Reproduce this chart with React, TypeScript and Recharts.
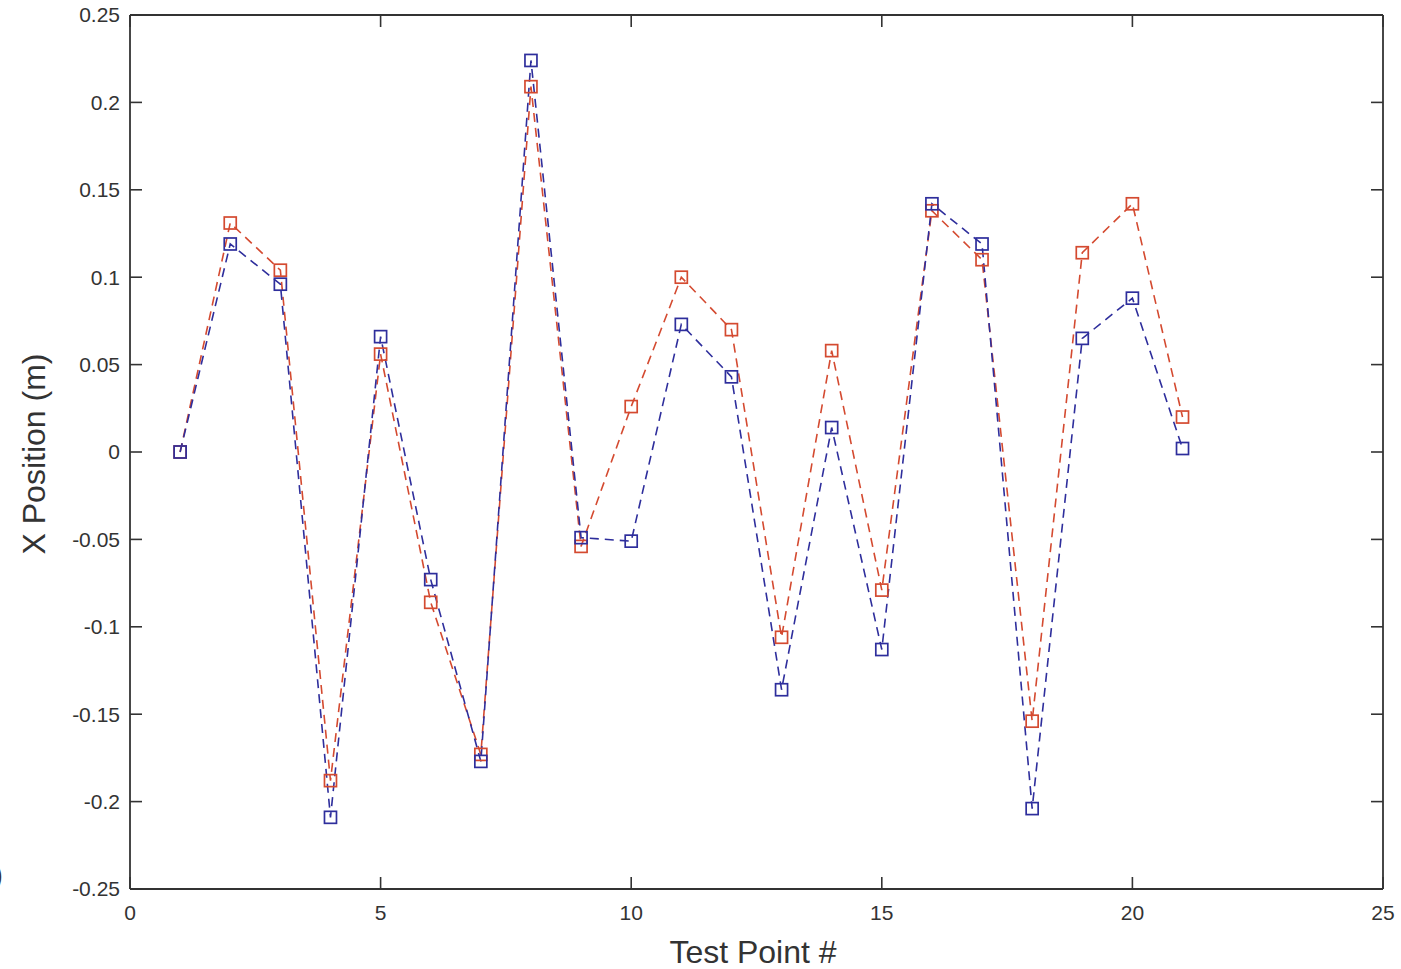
import React from 'react';
import { LineChart, Line, XAxis, YAxis } from 'recharts';

const testPoints = [1, 2, 3, 4, 5, 6, 7, 8, 9, 10, 11, 12, 13, 14, 15, 16, 17, 18, 19, 20, 21];
const redValues = [0, 0.131, 0.104, -0.188, 0.056, -0.086, -0.173, 0.209, -0.054, 0.026, 0.1, 0.07, -0.106, 0.058, -0.079, 0.138, 0.11, -0.154, 0.114, 0.142, 0.02];
const blueValues = [0, 0.119, 0.096, -0.209, 0.066, -0.073, -0.177, 0.224, -0.049, -0.051, 0.073, 0.043, -0.136, 0.014, -0.113, 0.142, 0.119, -0.204, 0.065, 0.088, 0.002];
const xTicks = [0, 5, 10, 15, 20, 25];
const yTicks = [-0.25, -0.2, -0.15, -0.1, -0.05, 0, 0.05, 0.1, 0.15, 0.2, 0.25];

const data = testPoints.map((tp, i) => ({ tp, red: redValues[i], blue: blueValues[i] }));

const AXIS = '#333333';
const RED = '#d44a30';
const BLUE = '#2e2e9c';
const FONT = '"Liberation Sans", Arial, sans-serif';
const CHART_W = 1401;
const MARGIN_RIGHT = 18;
const PLOT_RIGHT = CHART_W - MARGIN_RIGHT;

const fmt = (v: number) => String(Number(Number(v).toFixed(2)));
const blank = () => '';

const tickStyle = { fontSize: 21, fontFamily: FONT, fill: '#333' };
const lineStyle = { stroke: AXIS, strokeWidth: 1.6 };
const axisStyle = { stroke: AXIS, strokeWidth: 1.8 };

const RightTick = (p: any) => (
  <line x1={PLOT_RIGHT - 12} y1={p.y} x2={PLOT_RIGHT} y2={p.y} stroke={AXIS} strokeWidth={1.6} />
);

const makeDot = (color: string) => (p: any) => (
  <rect key={p.index} x={p.cx - 6} y={p.cy - 6} width={12} height={12} fill="none" stroke={color} strokeWidth={1.7} />
);

export default function App() {
  return (
    <div style={{ position: 'absolute', left: 0, top: 0, width: CHART_W, height: 969, background: '#fff' }}>
      <span style={{ position: 'absolute', left: -7, top: 858, fontSize: 30, fontFamily: FONT, color: '#333' }}>)</span>
      <LineChart width={CHART_W} height={969} data={data} margin={{ top: 14, right: MARGIN_RIGHT - 1, bottom: 0, left: 0 }}>
        <XAxis
          xAxisId="b"
          dataKey="tp"
          type="number"
          domain={[0, 25]}
          ticks={xTicks}
          interval={0}
          height={80}
          tickSize={-12}
          tickMargin={28}
          tickLine={lineStyle}
          axisLine={axisStyle}
          tick={tickStyle}
          tickFormatter={fmt}
          label={() => (
            <text x={753} y={963} textAnchor="middle" fontSize={32} fontFamily={FONT} fill="#333">
              Test Point #
            </text>
          )}
        />
        <XAxis
          xAxisId="t"
          orientation="top"
          dataKey="tp"
          type="number"
          domain={[0, 25]}
          ticks={xTicks}
          interval={0}
          height={1}
          tickSize={-12}
          tickMargin={0}
          tickLine={lineStyle}
          axisLine={axisStyle}
          tick={tickStyle}
          tickFormatter={blank}
        />
        <YAxis
          yAxisId="l"
          type="number"
          domain={[-0.25, 0.25]}
          ticks={yTicks}
          interval={0}
          width={130}
          tickSize={-12}
          tickMargin={22}
          tickLine={lineStyle}
          axisLine={axisStyle}
          tick={tickStyle}
          tickFormatter={fmt}
          label={() => (
            <text x={45} y={454} transform="rotate(-90 45 454)" textAnchor="middle" fontSize={32} fontFamily={FONT} fill="#333">
              X Position (m)
            </text>
          )}
        />
        <YAxis
          yAxisId="r"
          orientation="right"
          type="number"
          dataKey="blue"
          domain={[-0.25, 0.25]}
          ticks={yTicks}
          interval={0}
          width={1}
          tickSize={0}
          tickMargin={0}
          tickLine={false}
          axisLine={axisStyle}
          tick={<RightTick />}
        />
        <Line
          xAxisId="b"
          yAxisId="l"
          type="linear"
          dataKey="red"
          stroke={RED}
          strokeWidth={1.6}
          strokeDasharray="9 6"
          dot={makeDot(RED)}
          activeDot={false}
          isAnimationActive={false}
        />
        <Line
          xAxisId="b"
          yAxisId="r"
          type="linear"
          dataKey="blue"
          stroke={BLUE}
          strokeWidth={1.6}
          strokeDasharray="9 6"
          dot={makeDot(BLUE)}
          activeDot={false}
          isAnimationActive={false}
        />
      </LineChart>
    </div>
  );
}
